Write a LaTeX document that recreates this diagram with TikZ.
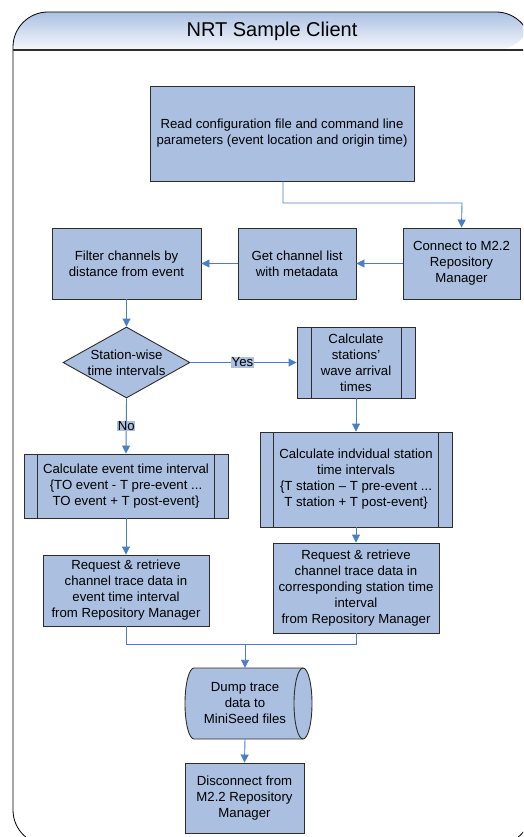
\documentclass[tikz,border=0pt]{standalone}
\usepackage{fontspec}
\setmainfont{Liberation Sans}
\usetikzlibrary{arrows.meta,shapes.geometric}
\definecolor{boxblue}{RGB}{171,192,225}
\definecolor{linkblue}{RGB}{74,126,199}
\definecolor{edgegray}{RGB}{45,45,45}
\definecolor{headtop}{RGB}{172,193,227}
\definecolor{headbot}{RGB}{246,248,252}
\tikzset{
  stepbox/.style={draw=edgegray, fill=boxblue, line width=0.9pt, inner sep=0pt,
    align=center, font=\fontsize{13.2}{16}\selectfont},
  decision/.style={draw=edgegray, fill=boxblue, line width=0.9pt, inner sep=0pt, shape=diamond},
  textonly/.style={inner sep=0pt, align=center, font=\fontsize{13.2}{16}\selectfont},
  link/.style={draw=linkblue, line width=0.9pt, -{Triangle[length=8pt,width=8pt]}},
  plainlink/.style={draw=linkblue, line width=0.9pt},
  tag/.style={fill=boxblue, inner sep=0.8pt, font=\fontsize{13.2}{14}\selectfont},
  subproc/.style={draw=edgegray, line width=0.9pt}
}
\begin{document}
\begin{tikzpicture}[x=1pt, y=-1pt]
\useasboundingbox (0,0) rectangle (523,837);
\clip (0,0) rectangle (523,837);

% swimlane frame with shaded title band
\shade[top color=headtop, bottom color=headbot, rounded corners=35pt]
  (13,50) -- (13,12) -- (531,12) -- (531,50) [sharp corners] -- cycle;
\draw[black, line width=0.8pt, rounded corners=35pt] (13,12) rectangle (531,845);
\draw[edgegray, line width=1.2pt] (13,50) -- (531,50);
\node[textonly, font=\fontsize{20}{22}\selectfont] (title) at (272,31) {NRT Sample Client};

% process steps
\node[stepbox, minimum width=264pt, minimum height=95pt] (read) at (282,133.5)
  {Read configuration file and command line\\parameters (event location and origin time)};
\node[stepbox, minimum width=117pt, minimum height=71pt] (connect) at (461.5,263.5)
  {Connect to M2.2\\Repository\\Manager};
\node[stepbox, minimum width=118pt, minimum height=71pt] (getlist) at (297,263.5)
  {Get channel list\\with metadata};
\node[stepbox, minimum width=149pt, minimum height=71pt] (filter) at (126.5,263.5)
  {Filter channels by\\distance from event};
\node[decision, minimum width=127pt, minimum height=71pt] (stationwise) at (126.5,362.5) {};
\node[textonly] (stationwisetext) at (stationwise.center) {Station-wise\\time intervals};
\node[stepbox, minimum width=118pt, minimum height=71pt] (arrival) at (356,362.5)
  {Calculate\\stations’\\wave arrival\\times};
\node[stepbox, minimum width=204pt, minimum height=64pt] (evint) at (126,486)
  {Calculate event time interval\\\{TO event - T pre-event ...\\TO event + T post-event\}};
\node[stepbox, minimum width=192pt, minimum height=95pt] (stint) at (356,479.5)
  {Calculate indvidual station\\time intervals\\\{T station – T pre-event ...\\T station + T post-event\}};
\node[stepbox, minimum width=166pt, minimum height=71pt] (reqev) at (126,590.5)
  {Request \& retrieve\\channel trace data in\\event time interval\\from Repository Manager};
\node[stepbox, minimum width=166pt, minimum height=90pt] (reqst) at (356,588)
  {Request \& retrieve\\channel trace data in\\corresponding station time\\interval\\from Repository Manager};
\node[stepbox, minimum width=119pt, minimum height=70pt] (disconnect) at (244.5,798)
  {Disconnect from\\M2.2 Repository\\Manager};

% predefined-process side bars
\draw[subproc] ([xshift=15pt]arrival.north west) -- ([xshift=15pt]arrival.south west);
\draw[subproc] ([xshift=-14pt]arrival.north east) -- ([xshift=-14pt]arrival.south east);
\draw[subproc] ([xshift=14pt]evint.north west) -- ([xshift=14pt]evint.south west);
\draw[subproc] ([xshift=-14pt]evint.north east) -- ([xshift=-14pt]evint.south east);
\draw[subproc] ([xshift=14pt]stint.north west) -- ([xshift=14pt]stint.south west);
\draw[subproc] ([xshift=-14pt]stint.north east) -- ([xshift=-14pt]stint.south east);

% direct-access storage drum (y axis points down, so angle -90 is the top)
\fill[boxblue] (194,668) -- (303,668) arc[start angle=-90, end angle=90, x radius=9, y radius=35.5]
  -- (194,739) arc[start angle=90, end angle=270, x radius=9, y radius=35.5] -- cycle;
\draw[edgegray, line width=0.9pt] (194,668) -- (303,668)
  arc[start angle=-90, end angle=90, x radius=9, y radius=35.5]
  -- (194,739) arc[start angle=90, end angle=270, x radius=9, y radius=35.5];
\draw[edgegray, line width=0.9pt] (303,668)
  arc[start angle=-90, end angle=-270, x radius=9, y radius=35.5];
\node[textonly, minimum width=100pt, minimum height=71pt] (dump) at (245,703.5)
  {Dump trace\\data to\\MiniSeed files};

% connectors
\coordinate (join) at (245,644);
\draw[link] (read.south -| 283,0) |- (462,203) -- (connect.north);
\draw[link] (connect.west) -- (getlist.east);
\draw[link] (getlist.west) -- (filter.east);
\draw[link] (filter.south) -- (stationwise.north);
\draw[link] (stationwise.east) -- node[tag, pos=0.49] (yes) {Yes} (arrival.west);
\draw[link] (stationwise.south) -- node[tag, pos=0.5] (no) {No} (evint.north);
\draw[link] (arrival.south) -- (stint.north);
\draw[link] (evint.south) -- (reqev.north);
\draw[link] (stint.south) -- (reqst.north);
\draw[plainlink] (reqev.south) |- (join);
\draw[plainlink] (reqst.south) |- (join);
\draw[link] (join) -- (dump.north);
\draw[link] (dump.south) -- (disconnect.north);
\end{tikzpicture}
\end{document}
